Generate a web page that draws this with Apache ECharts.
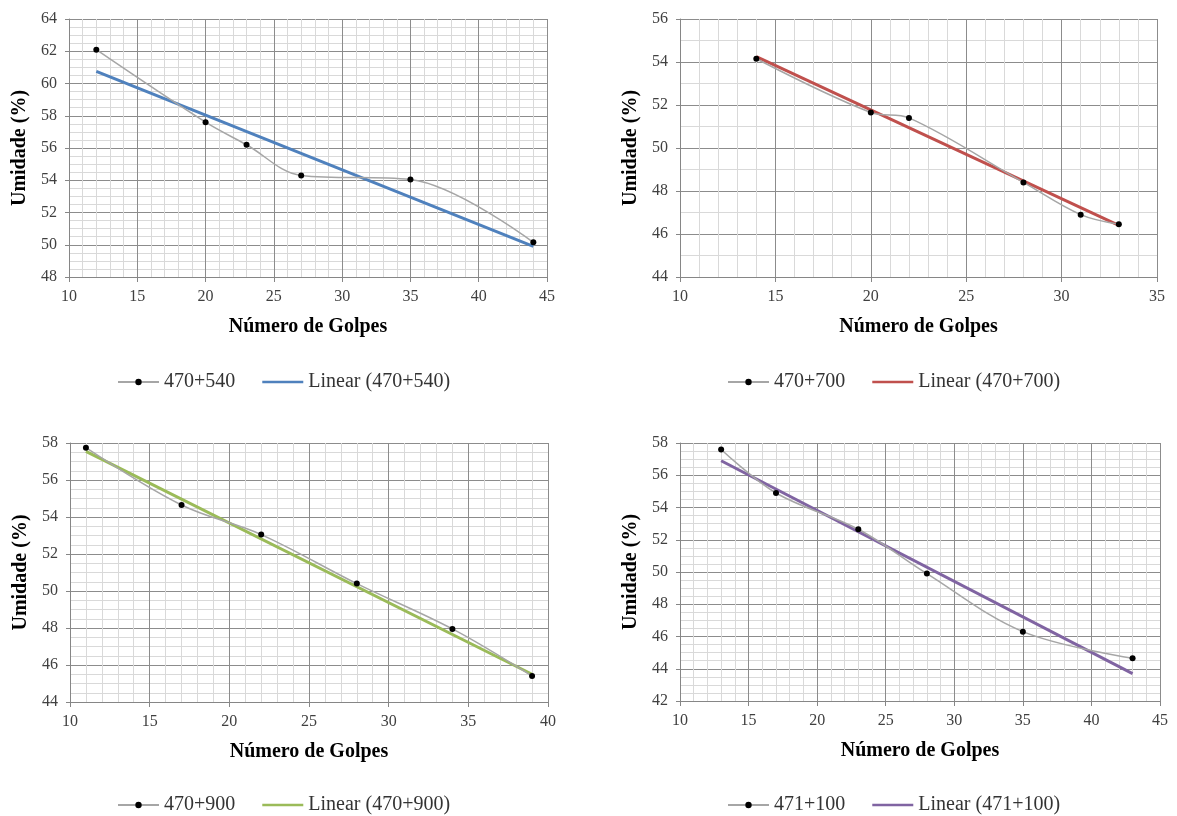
<!DOCTYPE html>
<html>
<head>
<meta charset="utf-8">
<script src="https://cdn.jsdelivr.net/npm/echarts@6/dist/echarts.min.js"></script>
<style>
html,body{margin:0;padding:0;background:#fff;}
#chart{width:1177px;height:816px;}
</style>
</head>
<body>
<div id="chart"></div>
<script>
// ---- data ----
const names = ["470+540", "470+700", "470+900", "471+100"];
const golpes1 = [12, 20, 23, 27, 35, 44];
const umid1   = [62.1, 57.6, 56.2, 54.3, 54.05, 50.15];
const trendX1 = [12, 44];
const trendY1 = [60.75, 49.9];

const golpes2 = [14, 20, 22, 28, 31, 33];
const umid2   = [54.15, 51.65, 51.4, 48.4, 46.9, 46.45];
const trendX2 = [14, 33];
const trendY2 = [54.25, 46.4];

const golpes3 = [11, 17, 22, 28, 34, 39];
const umid3   = [57.75, 54.65, 53.05, 50.4, 47.95, 45.4];
const trendX3 = [11, 39];
const trendY3 = [57.55, 45.5];

const golpes4 = [13, 17, 23, 28, 35, 43];
const umid4   = [57.6, 54.9, 52.65, 49.9, 46.3, 44.65];
const trendX4 = [13, 43];
const trendY4 = [56.9, 43.7];

const xRanges = [[10, 45], [10, 35], [10, 40], [10, 45]];
const yRanges = [[48, 64], [44, 56], [44, 58], [42, 58]];
const yMinorSplit = [4, 2, 4, 4];
const trendColors = ["#4f81bd", "#c0504d", "#9bbb59", "#8064a2"];

const xTitle = "Número de Golpes";
const yTitle = "Umidade (%)";

// ---- layout ----
const grids = [
  {left: 69, top: 19, width: 478, height: 258},
  {left: 680, top: 19, width: 477, height: 258},
  {left: 70, top: 443, width: 478, height: 259},
  {left: 680, top: 443, width: 480, height: 258}
];
const legendPos = [
  {left: 112, top: 367},
  {left: 722, top: 367},
  {left: 112, top: 790},
  {left: 722, top: 790}
];

const FONT = "Liberation Serif";
const allX = [golpes1, golpes2, golpes3, golpes4];
const allY = [umid1, umid2, umid3, umid4];
const allTX = [trendX1, trendX2, trendX3, trendX4];
const allTY = [trendY1, trendY2, trendY3, trendY4];

const xAxes = [], yAxes = [], series = [], legends = [];
for (let i = 0; i < 4; i++) {
  xAxes.push({
    type: 'value', gridIndex: i, min: xRanges[i][0], max: xRanges[i][1], interval: 5,
    name: xTitle, nameLocation: 'middle', nameGap: 40,
    nameTextStyle: {fontFamily: FONT, fontSize: 20, fontWeight: 'bold', color: '#000'},
    axisLine: {show: true, onZero: false, lineStyle: {color: '#868686', width: 1}},
    axisTick: {show: true, length: 5, lineStyle: {color: '#868686'}},
    axisLabel: {fontFamily: FONT, fontSize: 16, color: '#404040', margin: 12},
    splitLine: {show: true, lineStyle: {color: '#8c8c8c', width: 1}},
    minorTick: {show: false, splitNumber: 5},
    minorSplitLine: {show: true, lineStyle: {color: '#d9d9d9', width: 1}}
  });
  yAxes.push({
    type: 'value', gridIndex: i, min: yRanges[i][0], max: yRanges[i][1], interval: 2,
    name: yTitle, nameLocation: 'middle', nameGap: 39, nameRotate: 90,
    nameTextStyle: {fontFamily: FONT, fontSize: 20, fontWeight: 'bold', color: '#000'},
    axisLine: {show: true, onZero: false, lineStyle: {color: '#868686', width: 1}},
    axisTick: {show: true, length: 4, lineStyle: {color: '#868686'}},
    axisLabel: {fontFamily: FONT, fontSize: 16, color: '#404040', margin: 12},
    splitLine: {show: true, lineStyle: {color: '#8c8c8c', width: 1}},
    minorTick: {show: false, splitNumber: yMinorSplit[i]},
    minorSplitLine: {show: true, lineStyle: {color: '#d9d9d9', width: 1}}
  });
  series.push({
    name: names[i], type: 'line', xAxisIndex: i, yAxisIndex: i,
    data: allX[i].map((x, k) => [x, allY[i][k]]),
    smooth: 0.35, symbol: 'circle', symbolSize: 6,
    itemStyle: {color: '#000'},
    lineStyle: {color: '#a6a6a6', width: 1.5},
    z: 3
  });
  series.push({
    name: 'Linear (' + names[i] + ')', type: 'line', xAxisIndex: i, yAxisIndex: i,
    data: allTX[i].map((x, k) => [x, allTY[i][k]]),
    symbol: 'none', smooth: false,
    lineStyle: {color: trendColors[i], width: 3},
    itemStyle: {color: trendColors[i]},
    z: 2
  });
  legends.push({
    data: [
      {name: names[i]},
      {name: 'Linear (' + names[i] + ')', icon: 'path://M0,0L41,0L41,2.5L0,2.5Z'}
    ],
    left: legendPos[i].left, top: legendPos[i].top,
    itemWidth: 41, itemHeight: 8, itemGap: 27,
    textStyle: {fontFamily: FONT, fontSize: 20, color: '#333'},
    selectedMode: false
  });
}

const chart = echarts.init(document.getElementById('chart'), null, {renderer: 'canvas'});
chart.setOption({
  backgroundColor: '#fff',
  animation: false,
  grid: grids,
  xAxis: xAxes,
  yAxis: yAxes,
  legend: legends,
  series: series
});
</script>
</body>
</html>
